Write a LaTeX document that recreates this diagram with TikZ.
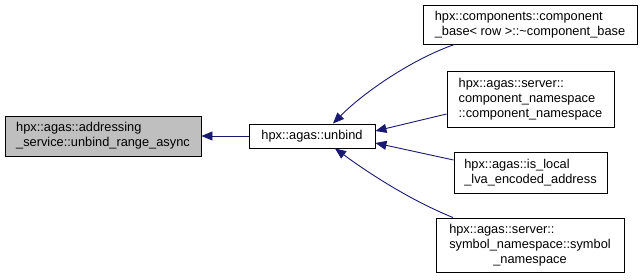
\documentclass[tikz,border=0pt]{standalone}
\usepackage{fontspec}
\setmainfont{Liberation Sans}
\usetikzlibrary{arrows.meta}
\definecolor{edgeblue}{HTML}{191970}
\tikzset{fn/.style={draw=black, line width=0.9pt, fill=white, align=left, inner sep=0pt,
	font=\fontsize{12.8}{15}\selectfont},
	call/.style={draw=edgeblue, line width=0.9pt, -{Triangle[length=11pt,width=9pt]}}}

\begin{document}
\begin{tikzpicture}[x=1pt, y=-1pt]
	\useasboundingbox (0,0) rectangle (644,279);
	% the function and its caller
	\node[fn, fill=black!25, minimum width=196pt, minimum height=40pt] (addr) at (103,136)
		{hpx::agas::addressing\\\_service::unbind\_range\_async};
	\node[fn, minimum width=126pt, minimum height=24pt] (unbind) at (312,136) {hpx::agas::unbind};
	% callers of unbind
	\node[fn, minimum width=214pt, minimum height=39pt] (cbase) at (530,24.5)
		{hpx::components::component\\\_base\textless{} row \textgreater::\textasciitilde component\_base};
	\node[fn, minimum width=167pt, minimum height=56pt] (cns) at (530.5,99)
		{hpx::agas::server::\\component\_namespace\\::component\_namespace};
	\node[fn, minimum width=153pt, minimum height=41pt] (islocal) at (530.5,172.5)
		{hpx::agas::is\_local\\\_lva\_encoded\_address};
	\node[fn, minimum width=188pt, minimum height=54pt] (sns) at (530,245)
		{\begin{tabular}{@{}l@{}}hpx::agas::server::\\symbol\_namespace::symbol\\
		\multicolumn{1}{@{}c@{}}{\_namespace}\end{tabular}};
	\draw[call] (unbind.west) -- (addr.east);
	\draw[call] ([xshift=32pt]cbase.south west) .. controls (410,60) and (362,94) .. ([xshift=21pt]unbind.north);
	\draw[call] ([yshift=-15pt]cns.west) -- ([yshift=5pt]unbind.east);
	\draw[call] ([yshift=12.5pt]islocal.west) -- ([yshift=-7pt]unbind.east);
	\draw[call] ([xshift=-77pt]sns.north) .. controls (410,200) and (370,174) .. ([xshift=23pt]unbind.south);
\end{tikzpicture}
\end{document}
